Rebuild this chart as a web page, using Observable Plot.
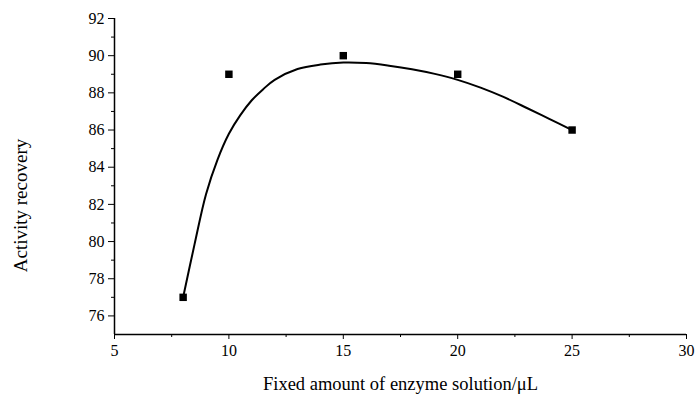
<!DOCTYPE html>
<html>
<head>
<meta charset="utf-8">
<script src="https://cdn.jsdelivr.net/npm/d3@7"></script>
<script src="https://cdn.jsdelivr.net/npm/@observablehq/plot@0.6"></script>
<style>
  body { margin: 0; background: #fff; }
  #chart svg { display: block; }
</style>
</head>
<body>
<div id="chart"></div>
<script>
// Measured points
const amounts = [8, 10, 15, 20, 25];
const recovery = [77, 89, 90, 89, 86];

// Fitted curve
const fitX = [8, 8.5, 9, 9.5, 10, 10.5, 11, 11.5, 12, 13, 14, 15, 16, 17, 18, 19, 20, 21, 22, 23, 24, 25];
const fitY = [77.0, 79.86, 82.55, 84.4, 85.8, 86.8, 87.6, 88.2, 88.7, 89.28, 89.52, 89.63, 89.6, 89.46, 89.27, 89.02, 88.7, 88.28, 87.78, 87.2, 86.6, 86.0];

const xTicks = [5, 10, 15, 20, 25, 30];
const xMinor = [7.5, 12.5, 17.5, 22.5, 27.5];
const yTicks = [76, 78, 80, 82, 84, 86, 88, 90, 92];
const yMinor = [77, 79, 81, 83, 85, 87, 89, 91];

const xLabel = "Fixed amount of enzyme solution/μL";
const yLabel = "Activity recovery";

const points = amounts.map((x, i) => ({x, y: recovery[i]}));
const curve = fitX.map((x, i) => ({x, y: fitY[i]}));

const chart = Plot.plot({
  width: 697,
  height: 398,
  marginLeft: 114,
  marginRight: 11,
  marginTop: 18,
  marginBottom: 64,
  style: {fontFamily: "'Liberation Serif', 'Times New Roman', serif", fontSize: "16px", color: "#000", background: "#fff"},
  x: {domain: [5, 30]},
  y: {domain: [75, 92]},
  marks: [
    Plot.axisX({ticks: xTicks, tickSize: 5, tickPadding: 5, tickFormat: d => d, label: null, fontSize: 16}),
    Plot.axisX({ticks: xMinor, tickSize: 3, text: null, label: null}),
    Plot.axisY({ticks: yTicks, tickSize: 6, tickPadding: 4, tickFormat: d => d, label: null, fontSize: 16}),
    Plot.axisY({ticks: yMinor, tickSize: 3, text: null, label: null}),
    Plot.ruleX([5], {strokeWidth: 1.5}),
    Plot.ruleY([75], {strokeWidth: 1.5}),
    Plot.line(curve, {x: "x", y: "y", curve: "catmull-rom", stroke: "#000", strokeWidth: 2}),
    Plot.dot(points, {x: "x", y: "y", symbol: "square", r: 4.2, fill: "#000", stroke: "none"}),
    Plot.text([xLabel], {frameAnchor: "bottom", dy: 55, fontSize: 18.5, text: d => d}),
    Plot.text([yLabel], {frameAnchor: "left", textAnchor: "middle", dx: -94, dy: 29, rotate: -90, fontSize: 19, text: d => d})
  ]
});
document.getElementById("chart").append(chart);
</script>
</body>
</html>
